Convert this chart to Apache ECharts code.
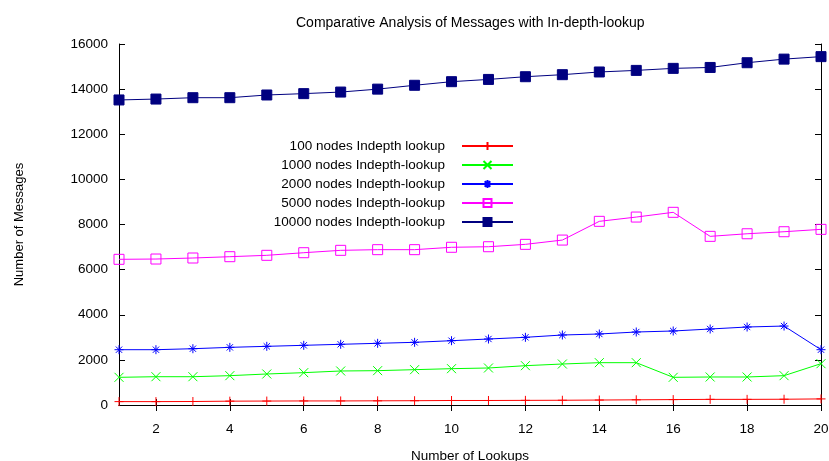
<!DOCTYPE html>
<html>
<head>
<meta charset="utf-8">
<script src="https://cdn.jsdelivr.net/npm/echarts@6/dist/echarts.min.js"></script>
<style>html,body{margin:0;padding:0;background:#fff;}#c{width:829px;height:461px;}</style>
</head>
<body>
<div id="c"></div>
<script>
var lookups = ['1','2','3','4','5','6','7','8','9','10','11','12','13','14','15','16','17','18','19','20'];
var nodes100 = [150,150,155,170,175,180,180,185,190,200,200,205,210,220,230,240,250,250,255,270];
var nodes1000 = [1227,1254,1254,1300,1374,1433,1507,1522,1566,1610,1640,1743,1817,1876,1876,1227,1241,1241,1300,1832];
var nodes2000 = [2451,2451,2495,2555,2600,2645,2690,2734,2778,2850,2925,3000,3102,3147,3235,3280,3368,3457,3500,2451];
var nodes5000 = [6457,6470,6515,6573,6634,6750,6855,6885,6885,6990,7015,7120,7310,8140,8330,8540,7475,7590,7680,7785];
var nodes10000 = [13520,13560,13620,13620,13740,13800,13870,14000,14170,14330,14430,14550,14640,14760,14830,14920,14960,15170,15330,15440];
var seriesNames = ['100 nodes Indepth lookup','1000 nodes Indepth-lookup','2000 nodes Indepth-lookup','5000 nodes Indepth-lookup','10000 nodes Indepth-lookup'];
var titleText = 'Comparative Analysis of Messages with In-depth-lookup';
var xName = 'Number of Lookups';
var yName = 'Number of Messages';

var FONT = 'Liberation Sans, Arial, sans-serif';
var evenIdx = function (i) { return i % 2 === 1; };

function mk(name, data, color, symbol, size, extra) {
  return {
    name: name, type: 'line', data: data, xAxisIndex: 0, yAxisIndex: 0,
    symbol: symbol, symbolSize: size, showSymbol: true,
    lineStyle: { color: color, width: 1 },
    itemStyle: Object.assign({ color: color, borderColor: color, borderWidth: 1 }, extra || {}),
    emphasis: { disabled: true },
    animation: false
  };
}

var chart = echarts.init(document.getElementById('c'), null, { renderer: 'canvas' });
chart.setOption({
  backgroundColor: '#fff',
  animation: false,
  title: {
    text: titleText, left: 291, top: 11,
    textStyle: { fontFamily: FONT, fontSize: 14, fontWeight: 'normal', color: '#000' }
  },
  grid: { left: 119, right: 8, top: 44, bottom: 56, containLabel: false, outerBoundsMode: 'none' },
  legend: {
    orient: 'vertical', align: 'right', right: 310, top: 134,
    itemWidth: 51, itemHeight: 10, itemGap: 5,
    textStyle: { fontFamily: FONT, fontSize: 13.5, color: '#000', padding: [0, 12, 0, 0] },
    data: seriesNames
  },
  xAxis: [{
    type: 'category', data: lookups, boundaryGap: false, position: 'bottom',
    name: xName, nameLocation: 'middle', nameGap: 44,
    nameTextStyle: { fontFamily: FONT, fontSize: 13.5, color: '#000' },
    axisLine: { lineStyle: { color: '#000', width: 1 } },
    axisTick: { inside: true, length: 6, interval: evenIdx, lineStyle: { color: '#000' } },
    axisLabel: { interval: evenIdx, margin: 17, fontFamily: FONT, fontSize: 13.5, color: '#000' },
    splitLine: { show: false }
  }, {
    type: 'category', data: lookups, boundaryGap: false, position: 'top',
    axisLine: { lineStyle: { color: '#000', width: 1 } },
    axisTick: { show: true, inside: true, length: 6, interval: evenIdx, lineStyle: { color: '#000' } },
    axisLabel: { show: false },
    splitLine: { show: false }
  }],
  yAxis: [{
    type: 'value', min: 0, max: 16000, interval: 2000, position: 'left',
    name: yName, nameLocation: 'middle', nameGap: 93, nameRotate: 90,
    nameTextStyle: { fontFamily: FONT, fontSize: 13, color: '#000' },
    axisLine: { show: true, lineStyle: { color: '#000', width: 1 } },
    axisTick: { show: true, inside: true, length: 6, lineStyle: { color: '#000' } },
    axisLabel: { margin: 11, fontFamily: FONT, fontSize: 13.5, color: '#000', formatter: function (v) { return String(v); } },
    splitLine: { show: false }
  }, {
    type: 'value', min: 0, max: 16000, interval: 2000, position: 'right',
    axisLine: { show: true, lineStyle: { color: '#000', width: 1 } },
    axisTick: { show: true, inside: true, length: 6, lineStyle: { color: '#000' } },
    axisLabel: { show: false },
    splitLine: { show: false }
  }],
  series: [
    mk(seriesNames[0], nodes100, '#ff0000', 'path://M0,5 L10,5 M5,0 L5,10', 9),
    mk(seriesNames[1], nodes1000, '#00ff00', 'path://M0,0 L10,10 M10,0 L0,10', 9),
    mk(seriesNames[2], nodes2000, '#0000ff', 'path://M5,0 L5,10 M0,5 L10,5 M1.5,1.5 L8.5,8.5 M8.5,1.5 L1.5,8.5', 9),
    mk(seriesNames[3], nodes5000, '#ff00ff', 'rect', 10, { color: 'rgba(255,255,255,0)' }),
    mk(seriesNames[4], nodes10000, '#000080', 'rect', 10)
  ]
});
</script>
</body>
</html>
